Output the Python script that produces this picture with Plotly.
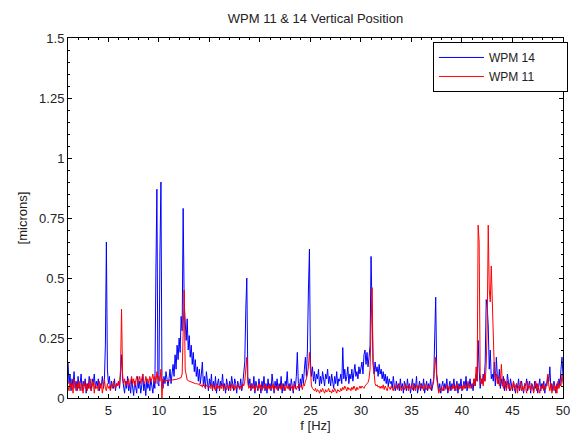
import numpy as np
import plotly.graph_objects as go

# frequency grid: 1.0 .. 50.0 Hz, 0.1 Hz bins (one row below = one Hz)
freq = np.round(np.arange(1.0, 50.0001, 0.1), 1)

wpm14 = [
    0.15,0.06,0.10,0.03,0.08,0.05,0.11,0.04,0.07,0.03,
    0.09,0.04,0.06,0.10,0.03,0.07,0.05,0.08,0.02,0.06,
    0.04,0.09,0.05,0.03,0.08,0.06,0.10,0.04,0.07,0.05,
    0.08,0.03,0.06,0.05,0.09,0.04,0.07,0.22,0.65,0.12,
    0.06,0.09,0.03,0.07,0.05,0.04,0.08,0.03,0.06,0.05,
    0.07,0.04,0.10,0.18,0.08,0.05,0.02,0.07,0.04,0.09,
    0.03,0.06,0.02,0.08,0.04,0.01,0.07,0.05,0.02,0.09,
    0.04,0.07,0.02,0.05,0.10,0.03,0.06,0.01,0.08,0.04,
    0.06,0.03,0.08,0.05,0.02,0.07,0.04,0.52,0.87,0.06,
    0.05,0.60,0.90,0.08,0.04,0.09,0.06,0.11,0.07,0.05,
    0.08,0.12,0.06,0.10,0.14,0.09,0.18,0.12,0.22,0.16,
    0.25,0.19,0.34,0.28,0.79,0.40,0.30,0.24,0.33,0.20,
    0.26,0.17,0.22,0.14,0.19,0.11,0.16,0.09,0.13,0.07,
    0.12,0.06,0.10,0.15,0.05,0.09,0.04,0.11,0.07,0.03,
    0.08,0.05,0.10,0.03,0.07,0.04,0.09,0.02,0.06,0.08,
    0.03,0.07,0.05,0.10,0.04,0.06,0.02,0.08,0.05,0.03,
    0.07,0.04,0.09,0.05,0.03,0.08,0.06,0.02,0.07,0.05,
    0.04,0.08,0.03,0.06,0.10,0.15,0.37,0.50,0.09,0.05,
    0.08,0.03,0.06,0.04,0.09,0.02,0.07,0.05,0.03,0.08,
    0.05,0.02,0.07,0.04,0.09,0.03,0.06,0.02,0.08,0.04,
    0.06,0.03,0.10,0.05,0.02,0.07,0.04,0.08,0.03,0.06,
    0.04,0.09,0.02,0.06,0.03,0.07,0.05,0.11,0.04,0.06,
    0.03,0.08,0.05,0.02,0.07,0.04,0.09,0.19,0.06,0.03,
    0.08,0.05,0.10,0.06,0.12,0.17,0.09,0.20,0.45,0.62,
    0.15,0.09,0.13,0.07,0.11,0.06,0.10,0.08,0.12,0.05,
    0.09,0.06,0.11,0.07,0.05,0.10,0.08,0.12,0.06,0.09,
    0.05,0.10,0.07,0.04,0.09,0.06,0.11,0.05,0.08,0.07,
    0.10,0.06,0.21,0.08,0.12,0.07,0.09,0.13,0.06,0.10,
    0.08,0.12,0.07,0.10,0.14,0.09,0.11,0.08,0.13,0.10,
    0.12,0.15,0.10,0.18,0.20,0.14,0.19,0.13,0.17,0.22,
    0.59,0.30,0.14,0.10,0.15,0.11,0.13,0.09,0.14,0.10,
    0.12,0.08,0.11,0.07,0.10,0.06,0.09,0.05,0.08,0.06,
    0.07,0.04,0.09,0.05,0.03,0.07,0.04,0.06,0.03,0.08,
    0.04,0.06,0.02,0.07,0.05,0.03,0.08,0.04,0.06,0.02,
    0.05,0.08,0.03,0.06,0.04,0.09,0.02,0.05,0.07,0.03,
    0.06,0.04,0.08,0.02,0.05,0.07,0.03,0.06,0.04,0.08,
    0.03,0.05,0.07,0.25,0.42,0.10,0.05,0.03,0.06,0.02,
    0.05,0.07,0.03,0.06,0.04,0.08,0.02,0.05,0.07,0.03,
    0.06,0.04,0.08,0.03,0.05,0.07,0.02,0.06,0.04,0.08,
    0.03,0.05,0.07,0.04,0.09,0.03,0.06,0.05,0.08,0.04,
    0.06,0.03,0.08,0.05,0.10,0.07,0.24,0.12,0.04,0.08,
    0.06,0.10,0.07,0.15,0.41,0.38,0.30,0.12,0.20,0.08,
    0.10,0.07,0.15,0.05,0.17,0.09,0.06,0.12,0.04,0.08,
    0.05,0.09,0.03,0.07,0.04,0.10,0.06,0.03,0.08,0.05,
    0.03,0.07,0.05,0.02,0.06,0.04,0.08,0.03,0.05,0.07,
    0.04,0.02,0.06,0.05,0.08,0.03,0.05,0.07,0.02,0.06,
    0.05,0.03,0.07,0.04,0.06,0.02,0.05,0.08,0.03,0.06,
    0.04,0.07,0.02,0.06,0.05,0.09,0.07,0.13,0.04,0.06,
    0.03,0.07,0.05,0.02,0.06,0.04,0.08,0.05,0.12,0.17,
    0.09,
]

wpm11 = [
    0.05,0.03,0.07,0.04,0.06,0.02,0.08,0.05,0.03,0.06,
    0.04,0.07,0.03,0.06,0.05,0.02,0.07,0.04,0.06,0.03,
    0.06,0.04,0.08,0.03,0.05,0.07,0.02,0.06,0.04,0.05,
    0.03,0.07,0.04,0.06,0.02,0.05,0.08,0.04,0.03,0.06,
    0.04,0.05,0.03,0.06,0.04,0.07,0.05,0.04,0.06,0.05,
    0.07,0.05,0.12,0.37,0.10,0.06,0.08,0.05,0.07,0.06,
    0.08,0.05,0.07,0.09,0.06,0.08,0.05,0.07,0.09,0.06,
    0.07,0.09,0.06,0.08,0.10,0.07,0.06,0.09,0.07,0.08,
    0.06,0.09,0.07,0.08,0.10,0.07,0.09,0.06,0.11,0.08,
    0.09,0.07,0.12,0.00,0.08,0.07,0.072,0.072,0.073,0.073,
    0.074,0.074,0.075,0.075,0.076,0.076,0.077,0.077,0.078,0.079,
    0.08,0.082,0.085,0.10,0.33,0.45,0.12,0.085,0.075,0.072,
    0.07,0.068,0.066,0.065,0.063,0.062,0.06,0.06,0.058,0.057,
    0.06,0.05,0.055,0.045,0.06,0.05,0.04,0.055,0.05,0.045,
    0.05,0.04,0.06,0.035,0.055,0.045,0.03,0.06,0.04,0.05,
    0.035,0.055,0.04,0.06,0.03,0.05,0.045,0.035,0.06,0.04,
    0.05,0.03,0.06,0.04,0.055,0.035,0.05,0.04,0.06,0.045,
    0.035,0.05,0.04,0.06,0.05,0.07,0.12,0.17,0.06,0.04,
    0.05,0.035,0.06,0.04,0.05,0.03,0.055,0.045,0.035,0.06,
    0.04,0.055,0.03,0.05,0.045,0.06,0.035,0.05,0.04,0.055,
    0.035,0.05,0.04,0.06,0.03,0.05,0.045,0.035,0.055,0.04,
    0.05,0.035,0.06,0.04,0.05,0.03,0.055,0.04,0.05,0.035,
    0.055,0.04,0.05,0.03,0.06,0.045,0.035,0.05,0.04,0.06,
    0.045,0.05,0.035,0.06,0.05,0.07,0.08,0.10,0.13,0.19,
    0.08,0.05,0.04,0.035,0.03,0.04,0.025,0.035,0.03,0.02,
    0.035,0.025,0.04,0.03,0.02,0.035,0.025,0.03,0.04,0.025,
    0.03,0.02,0.035,0.025,0.04,0.03,0.02,0.035,0.03,0.025,
    0.04,0.03,0.045,0.035,0.05,0.04,0.03,0.045,0.035,0.04,
    0.03,0.045,0.035,0.05,0.04,0.03,0.045,0.035,0.04,0.05,
    0.04,0.05,0.045,0.04,0.05,0.055,0.06,0.065,0.08,0.12,
    0.30,0.46,0.15,0.08,0.06,0.05,0.055,0.045,0.05,0.04,
    0.05,0.04,0.055,0.035,0.05,0.04,0.03,0.05,0.045,0.035,
    0.05,0.04,0.03,0.055,0.04,0.05,0.035,0.045,0.06,0.04,
    0.03,0.05,0.045,0.035,0.06,0.04,0.05,0.03,0.055,0.04,
    0.05,0.035,0.06,0.04,0.03,0.055,0.045,0.035,0.05,0.06,
    0.04,0.05,0.03,0.06,0.045,0.035,0.055,0.04,0.05,0.035,
    0.05,0.06,0.08,0.12,0.17,0.08,0.04,0.02,0.035,0.03,
    0.045,0.03,0.05,0.04,0.035,0.055,0.04,0.03,0.05,0.045,
    0.035,0.055,0.04,0.05,0.03,0.06,0.045,0.035,0.05,0.04,
    0.05,0.035,0.06,0.04,0.05,0.045,0.07,0.04,0.055,0.05,
    0.04,0.06,0.08,0.05,0.13,0.07,0.72,0.65,0.10,0.06,
    0.08,0.05,0.10,0.07,0.14,0.30,0.72,0.45,0.40,0.55,
    0.38,0.20,0.12,0.08,0.10,0.06,0.09,0.05,0.07,0.14,
    0.06,0.04,0.08,0.05,0.03,0.07,0.04,0.06,0.03,0.05,
    0.04,0.07,0.03,0.05,0.06,0.02,0.05,0.04,0.07,0.03,
    0.05,0.03,0.06,0.04,0.02,0.07,0.04,0.05,0.03,0.06,
    0.04,0.02,0.05,0.07,0.03,0.06,0.04,0.02,0.05,0.04,
    0.06,0.03,0.05,0.04,0.07,0.10,0.05,0.03,0.06,0.02,
    0.04,0.06,0.03,0.05,0.02,0.07,0.04,0.06,0.05,0.10,
    0.06,
]

title_text = "WPM 11 & 14 Vertical Position"
x_label = "f [Hz]"
y_label = "[microns]"
series_names = ["WPM 14", "WPM 11"]
x_ticks = [5, 10, 15, 20, 25, 30, 35, 40, 45, 50]
y_ticks = [0, 0.25, 0.5, 0.75, 1, 1.25, 1.5]
y_ticktext = ["0", "0.25", "0.5", "0.75", "1", "1.25", "1.5"]

FONT = "Liberation Sans, Arial, sans-serif"
PAD = "\u00a0" * 8  # extra room on the right of legend labels (MATLAB-style box)

fig = go.Figure()
fig.add_trace(go.Scatter(x=freq, y=wpm14, mode="lines", name=series_names[0] + PAD,
                         line=dict(color="#0000FF", width=1)))
fig.add_trace(go.Scatter(x=freq, y=wpm11, mode="lines", name=series_names[1] + PAD,
                         line=dict(color="#FF0000", width=1)))

axis_common = dict(showline=True, linecolor="#000000", linewidth=1, mirror="ticks",
                   ticks="inside", ticklen=4, tickcolor="#000000", showgrid=False,
                   zeroline=False, tickfont=dict(family=FONT, size=13, color="#222"))

fig.update_layout(
    width=578, height=442,
    margin=dict(l=68, r=8, t=38, b=44),
    paper_bgcolor="white", plot_bgcolor="white",
    font=dict(family=FONT, size=13, color="#222"),
    title=dict(text=title_text, x=0.5, xref="paper", xanchor="center",
               y=1 - 18 / 442, yref="container", yanchor="middle",
               font=dict(family=FONT, size=13, color="#222")),
    xaxis=dict(range=[1, 50], tickvals=x_ticks,
               minor=dict(dtick=1, tick0=0, ticks="inside", ticklen=2, tickcolor="#000"),
               title=dict(text=x_label, standoff=4, font=dict(family=FONT, size=13)),
               **axis_common),
    yaxis=dict(range=[0, 1.5], tickvals=y_ticks, ticktext=y_ticktext,
               minor=dict(dtick=0.05, tick0=0, ticks="inside", ticklen=2, tickcolor="#000"),
               title=dict(text=y_label, standoff=8, font=dict(family=FONT, size=13)),
               **axis_common),
    legend=dict(x=1.01, y=0.989, xanchor="right", yanchor="top",
                bgcolor="white", bordercolor="#000", borderwidth=1,
                font=dict(family=FONT, size=12, color="#222"),
                tracegroupgap=0, itemwidth=45),
    showlegend=True,
)

fig.write_html("out.html")
